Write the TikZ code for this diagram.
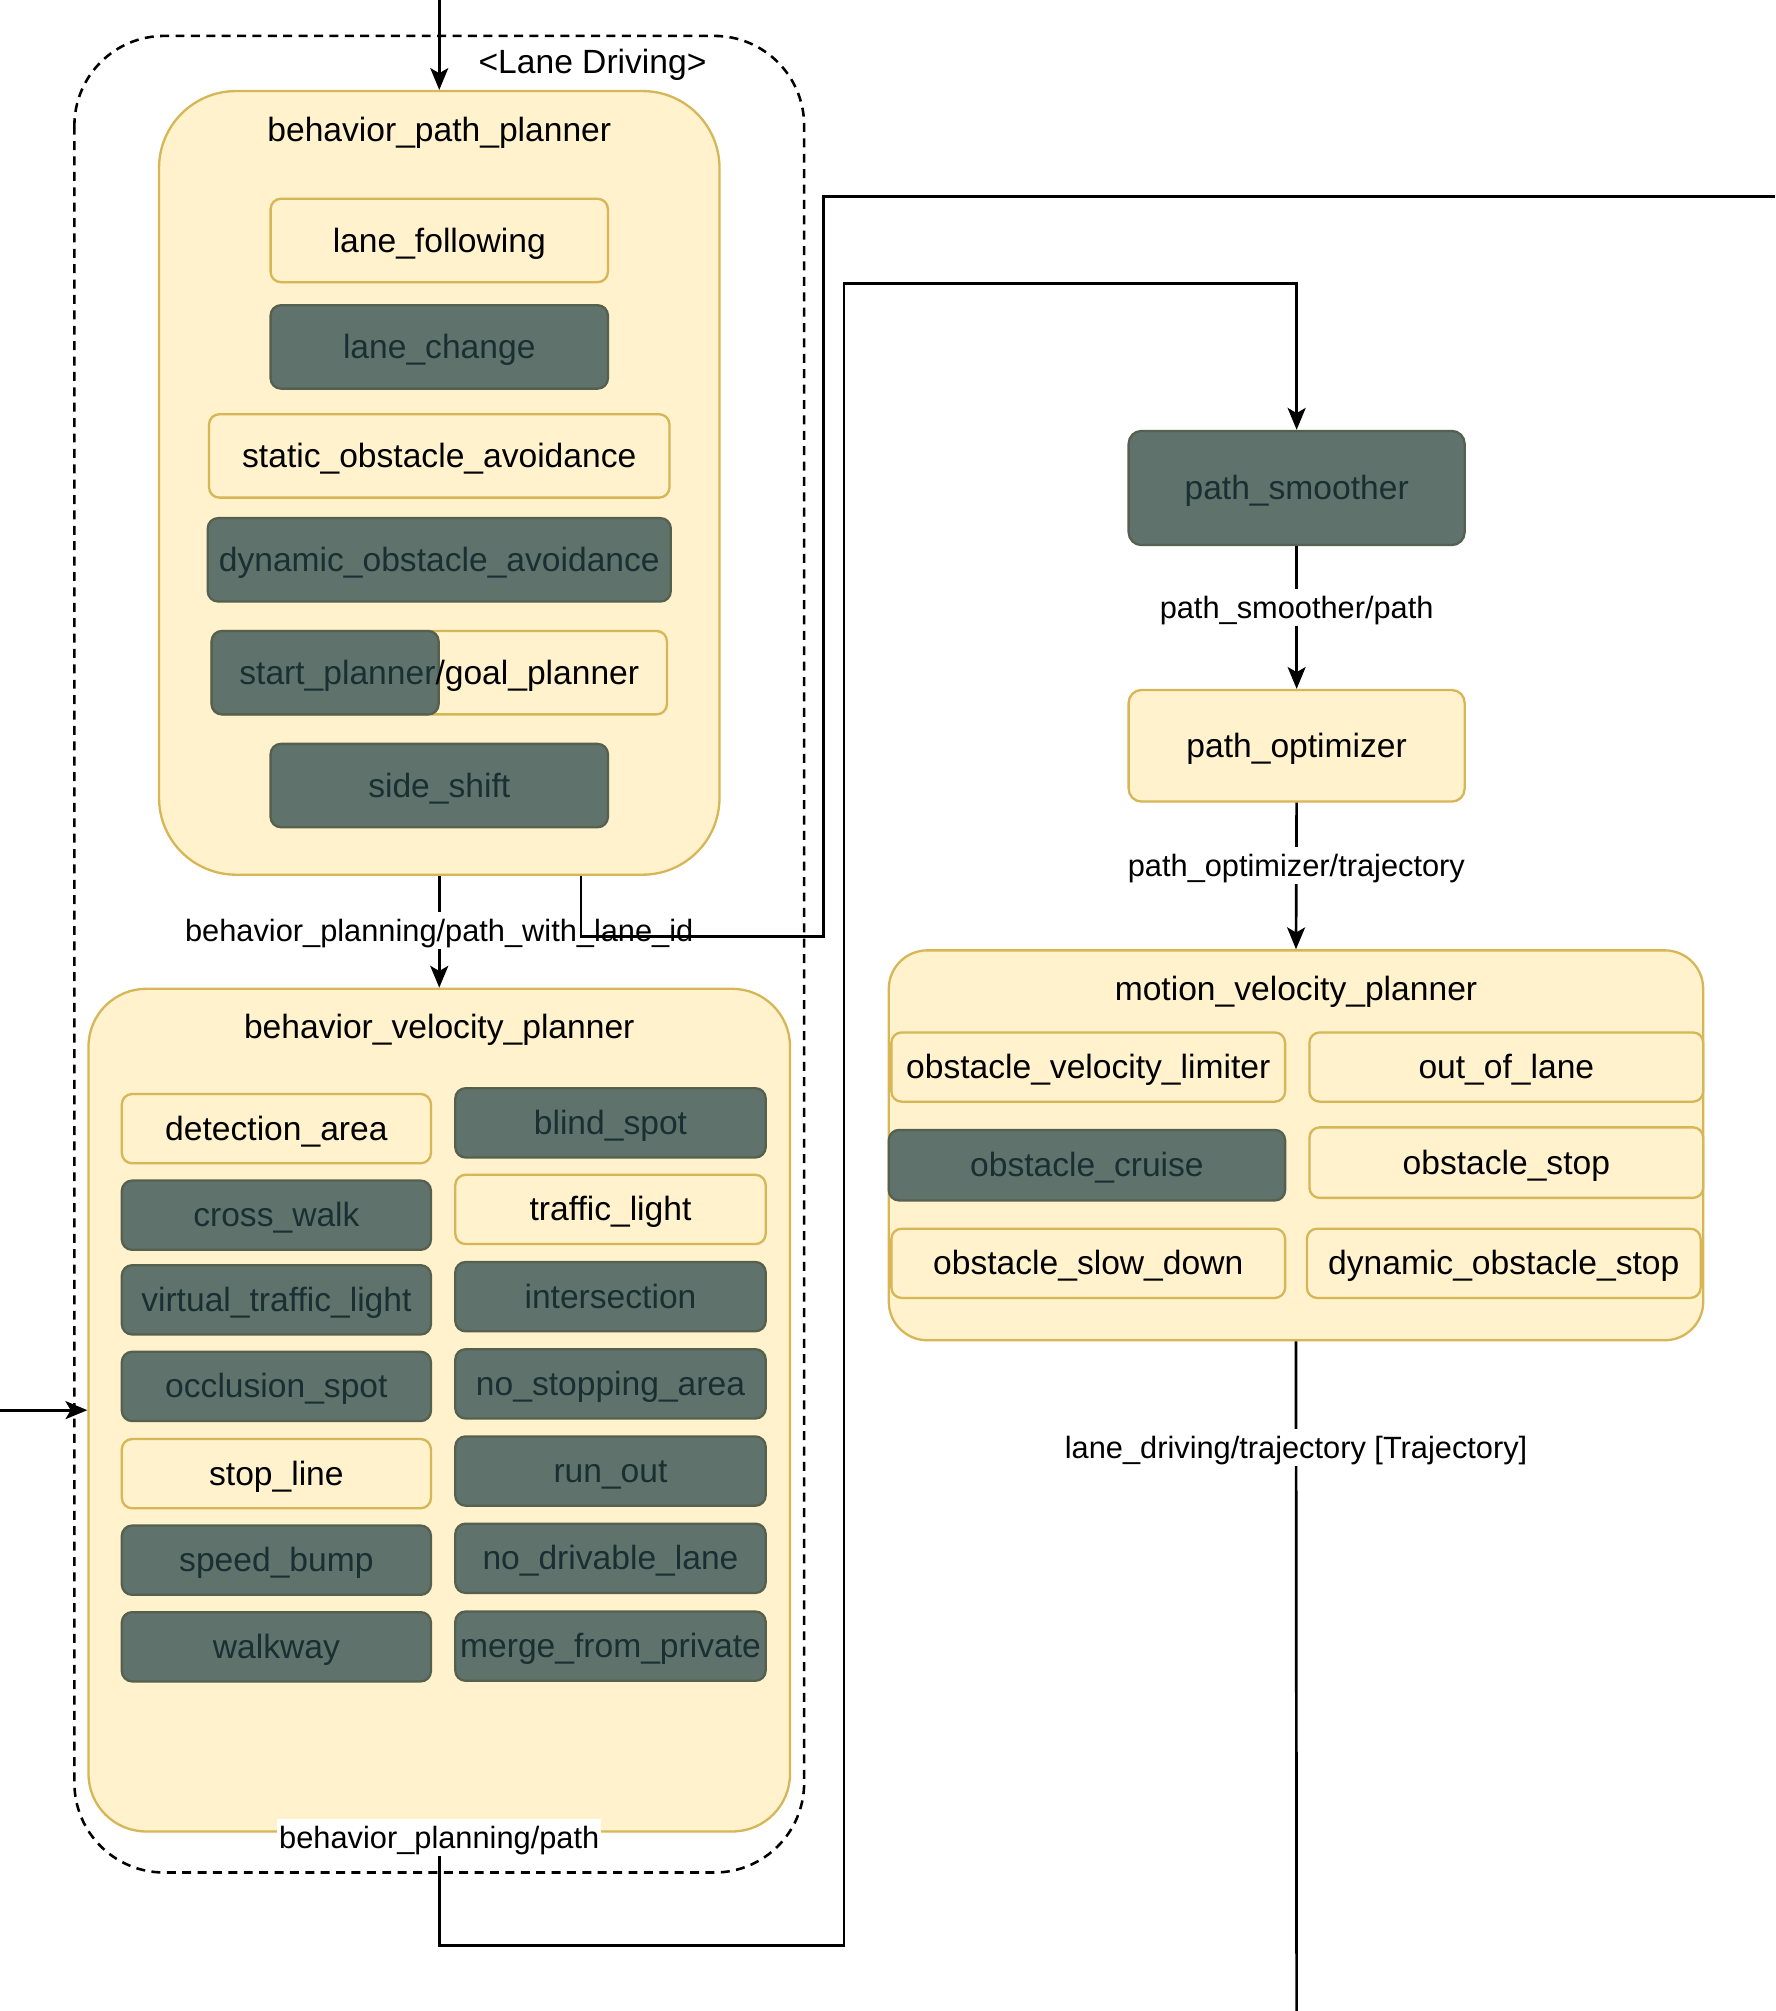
\documentclass[tikz,border=0pt]{standalone}
\usepackage{fontspec}
\setmainfont{Liberation Sans}
\usetikzlibrary{arrows.meta,calc}
\definecolor{lfill}{HTML}{FFF2CC}
\definecolor{ldraw}{HTML}{D6B656}
\definecolor{dfill}{HTML}{5F736C}
\definecolor{ddraw}{HTML}{55614E}
\definecolor{dtext}{HTML}{1B2F33}
\begin{document}
\begin{tikzpicture}[x=1bp,y=-1bp,
  box/.style={draw, line width=1.8bp, inner sep=0pt, rounded corners=8bp,
    font=\fontsize{26.2bp}{30bp}\selectfont, text height=23bp, text depth=5bp},
  lbox/.style={box, fill=lfill, draw=ldraw, text=black},
  dbox/.style={box, fill=dfill, draw=ddraw, text=dtext},
  sz/.style 2 args={minimum width=#1bp, minimum height=#2bp},
  container/.style={draw=ldraw, fill=lfill, line width=1.8bp, inner sep=0pt},
  title/.style={font=\fontsize{26.2bp}{30bp}\selectfont, inner sep=0pt, text height=23bp, text depth=5bp},
  lbl/.style={font=\fontsize{24bp}{28bp}\selectfont, fill=white, inner sep=1.5bp, text height=21.5bp, text depth=4.5bp},
  conn/.style={line width=2.1bp, draw=black},
  arr/.style={conn, -{Stealth[length=17bp,width=14bp,inset=4bp]}},
  group/.style={draw=black, dash pattern=on 7bp off 5bp, line width=2bp, rounded corners=70bp}
]
\useasboundingbox (0,0) rectangle (1384,1568);

% dashed group
\draw[group] (58,28) rectangle (627,1460);
\node[title] (lanedriving) at (462,48) {\textless Lane Driving\textgreater};

% behavior_path_planner
\node[container, rounded corners=60bp, sz={437}{611}] (bpp) at (342.5,376.5) {};
\node[title] (bpptitle) at (342.5,101) {behavior\_path\_planner};
\node[lbox, sz={263}{65}] (lf) at (342.5,187.5) {lane\_following};
\node[dbox, sz={263}{65}] (lc) at (342.5,270.5) {lane\_change};
\node[lbox, sz={359}{65}] (soa) at (342.5,355.5) {static\_obstacle\_avoidance};
\node[dbox, sz={361}{65}] (doa) at (342.5,436.5) {dynamic\_obstacle\_avoidance};
\node[lbox, sz={355}{65}] (gp) at (342.5,524.5) {};
\node[dbox, sz={177}{65}] (sp) at (253.5,524.5) {};
\node[title] (spgptext) at (342.5,524.5) {\textcolor{dtext}{start\_planner}/goal\_planner};
\node[dbox, sz={263}{65}] (ss) at (342.5,612.5) {side\_shift};

% behavior_velocity_planner
\node[container, rounded corners=45bp, sz={547}{657}] (bvp) at (342.5,1099.5) {};
\node[title] (bvptitle) at (342.5,801) {behavior\_velocity\_planner};
\node[lbox, sz={241}{54}] (da) at (215.5,880) {detection\_area};
\node[dbox, sz={241}{54}] (cw) at (215.5,947.5) {cross\_walk};
\node[dbox, sz={241}{54}] (vtl) at (215.5,1013.5) {virtual\_traffic\_light};
\node[dbox, sz={241}{54}] (os) at (215.5,1081) {occlusion\_spot};
\node[lbox, sz={241}{54}] (sl) at (215.5,1149) {stop\_line};
\node[dbox, sz={241}{54}] (sb) at (215.5,1216.5) {speed\_bump};
\node[dbox, sz={241}{54}] (wk) at (215.5,1284) {walkway};
\node[dbox, sz={242}{54}] (bs) at (476,875.5) {blind\_spot};
\node[lbox, sz={242}{54}] (tl) at (476,943) {traffic\_light};
\node[dbox, sz={242}{54}] (is) at (476,1011) {intersection};
\node[dbox, sz={242}{54}] (nsa) at (476,1079) {no\_stopping\_area};
\node[dbox, sz={242}{54}] (ro) at (476,1147) {run\_out};
\node[dbox, sz={242}{54}] (ndl) at (476,1215) {no\_drivable\_lane};
\node[dbox, sz={242}{54}] (mfp) at (476,1283.5) {merge\_from\_private};

% right column
\node[dbox, rounded corners=10bp, sz={262}{89}] (ps) at (1011,380.5) {path\_smoother};
\node[lbox, rounded corners=10bp, sz={262}{87}] (po) at (1011,581.5) {path\_optimizer};

\node[container, rounded corners=30bp, sz={635}{304}] (mvp) at (1010.5,893) {};
\node[title] (mvptitle) at (1010.5,771) {motion\_velocity\_planner};
\node[lbox, sz={307}{54}] (ovl) at (848.5,832) {obstacle\_velocity\_limiter};
\node[lbox, sz={307}{54}] (ool) at (1174.5,832) {out\_of\_lane};
\node[dbox, sz={309}{55}] (oc) at (847.5,908.5) {obstacle\_cruise};
\node[lbox, sz={307}{55}] (ost) at (1174.5,906.5) {obstacle\_stop};
\node[lbox, sz={307}{54}] (osd) at (848.5,985) {obstacle\_slow\_down};
\node[lbox, sz={307}{54}] (dos) at (1172.5,985) {dynamic\_obstacle\_stop};

% free ends
\coordinate (topin) at (342.5,0);
\coordinate (leftin) at (0,1099.5);
\coordinate (rightout) at (1384,153);
\coordinate (bottomout) at (1011,1568);

% connectors
\draw[arr] (topin) -- (bpp.north);
\draw[arr] (leftin) -- (bvp.west);
\draw[arr] (bpp.south) -- node[lbl, pos=0.49] {behavior\_planning/path\_with\_lane\_id} (bvp.north);
\draw[conn] ([xshift=110.5bp]bpp.south) |- (642,730) |- (rightout);
\draw[arr] (bvp.south) -- node[lbl, pos=0.045] {behavior\_planning/path} (342.5,1517) -| (658,221) -| (ps.north);
\draw[arr] (ps.south) -- node[lbl, pos=0.43] {path\_smoother/path} (po.north);
\draw[arr] (po.south) -- node[lbl, pos=0.43] {path\_optimizer/trajectory} (mvp.north);
\draw[conn] (mvp.south) -- node[lbl, pos=0.159] {lane\_driving/trajectory [Trajectory]} (bottomout);
\end{tikzpicture}
\end{document}
